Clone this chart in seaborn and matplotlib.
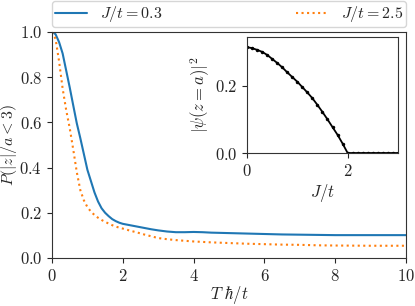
import numpy as np
import pandas as pd
import seaborn as sns
import matplotlib
matplotlib.use("Agg")
import matplotlib.pyplot as plt

# main curves: P(|z|/a < 3) against T hbar / t
t_vals = [0, 0.1, 0.2, 0.3, 0.4, 0.5, 0.6, 0.7, 0.8, 0.9, 1.0, 1.1, 1.2, 1.3, 1.4,
          1.5, 1.6, 1.7, 1.8, 1.9, 2.0, 2.2, 2.4, 2.6, 2.8, 3.0, 3.25, 3.5, 3.75,
          4.0, 4.25, 4.5, 5.0, 5.5, 6.0, 6.5, 7.0, 7.5, 8.0, 9.0, 10.0]
p_low = [1.0, 0.99, 0.955, 0.905, 0.83, 0.755, 0.675, 0.596, 0.53, 0.46, 0.39,
         0.34, 0.29, 0.25, 0.22, 0.20, 0.185, 0.172, 0.163, 0.156, 0.151, 0.145,
         0.139, 0.133, 0.127, 0.122, 0.117, 0.114, 0.114, 0.115, 0.114, 0.112,
         0.110, 0.108, 0.106, 0.104, 0.103, 0.102, 0.101, 0.101, 0.101]
p_high = [1.0, 0.97, 0.87, 0.75, 0.655, 0.575, 0.48, 0.38, 0.30, 0.255, 0.225,
          0.205, 0.19, 0.178, 0.168, 0.16, 0.152, 0.145, 0.139, 0.134, 0.13,
          0.121, 0.113, 0.104, 0.096, 0.088, 0.083, 0.079, 0.076, 0.073, 0.071,
          0.069, 0.066, 0.063, 0.061, 0.059, 0.058, 0.056, 0.055, 0.054, 0.054]

# inset: |psi(z=a)|^2 against J/t
j_vals = [0, 0.1, 0.2, 0.3, 0.4, 0.5, 0.6, 0.7, 0.8, 0.9, 1.0, 1.1, 1.2, 1.3, 1.4,
          1.5, 1.6, 1.7, 1.8, 1.9, 2.0, 2.1, 2.2, 2.3, 2.4, 2.5, 2.6, 2.7, 2.8,
          2.9, 3.0]
psi2 = [0.315, 0.312, 0.307, 0.301, 0.292, 0.280, 0.268, 0.255, 0.240, 0.226,
        0.212, 0.196, 0.180, 0.163, 0.143, 0.122, 0.100, 0.077, 0.054, 0.028,
        0.0, 0, 0, 0, 0, 0, 0, 0, 0, 0, 0]

sns.set_style("ticks")
plt.rcParams['font.family'] = 'serif'
plt.rcParams['font.serif'] = ['cmr10']
plt.rcParams['mathtext.fontset'] = 'cm'
plt.rcParams['axes.formatter.use_mathtext'] = True
plt.rcParams['font.size'] = 12
plt.rcParams['axes.edgecolor'] = '#333333'

df = pd.DataFrame({'t': t_vals, 'low': p_low, 'high': p_high})

fig = plt.figure(figsize=(4.15, 3.06), dpi=100)
ax = fig.add_axes([0.1253, 0.157, 0.853, 0.7386])
sns.lineplot(data=df, x='t', y='low', ax=ax, color='#1f77b4', lw=1.5,
             label=r'$J/t = 0.3$')
sns.lineplot(data=df, x='t', y='high', ax=ax, color='#ff7f0e', lw=1.5,
             linestyle=':', label=r'$J/t = 2.5$')
ax.set_xlim(0, 10)
ax.set_ylim(0, 1)
ax.set_xticks([0, 2, 4, 6, 8, 10])
ax.set_yticks([0.0, 0.2, 0.4, 0.6, 0.8, 1.0])
ax.set_xlabel(r'$T\ \hbar/t$', labelpad=0)
ax.set_ylabel(r'$P(|z|/a < 3)$', labelpad=0, fontsize=11.5)
ax.legend(bbox_to_anchor=(0, 1.022, 1, 0.1), loc='lower left', mode='expand',
          ncol=2, borderaxespad=0, fontsize=11.5, frameon=True, borderpad=0.2,
          handleheight=0.5)

ins = fig.add_axes([0.595, 0.5, 0.364, 0.379])
dfi = pd.DataFrame({'J': j_vals, 'psi': psi2})
sns.lineplot(data=dfi, x='J', y='psi', ax=ins, color='black', lw=1.3,
             marker='o', markersize=2.5, markeredgewidth=0)
ins.set_xlim(0, 3)
ins.set_ylim(0, 0.345)
ins.set_xticks([0, 2])
ins.set_yticks([0.0, 0.2])
ins.set_xlabel(r'$J/t$', labelpad=2)
ins.set_ylabel(r'$|\psi(z=a)|^2$', labelpad=2)

fig.savefig('out.png', dpi=100)
